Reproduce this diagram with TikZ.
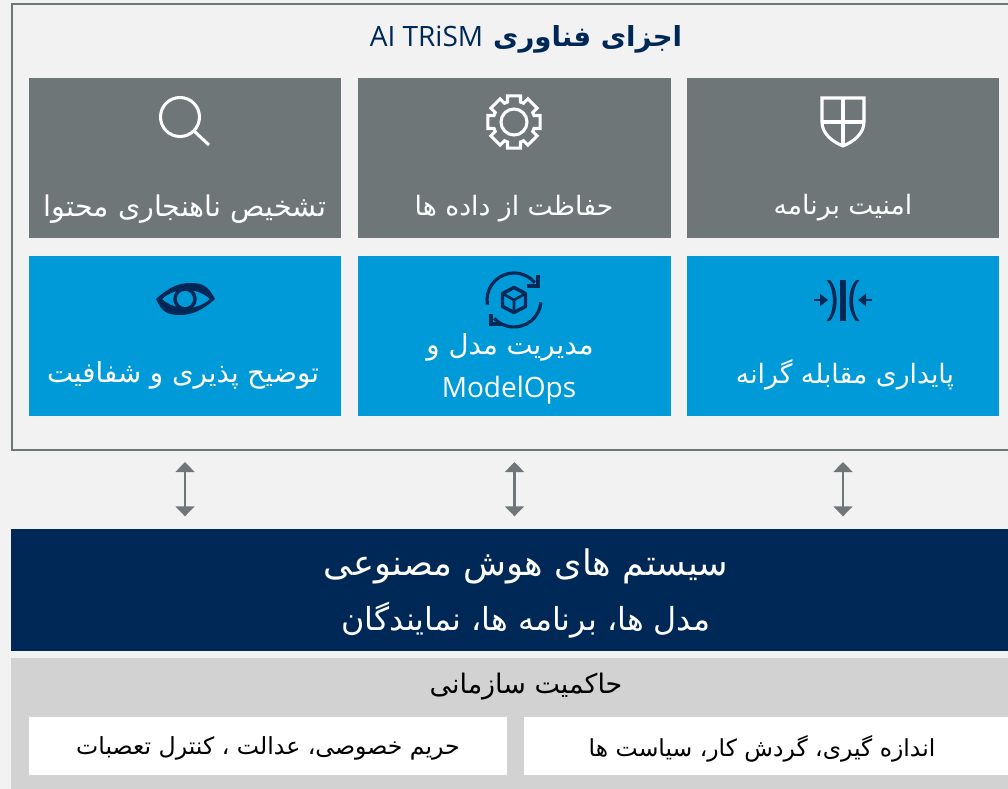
\documentclass[tikz,border=0pt]{standalone}
\usepackage{fontspec}
\setmainfont{Open Sans}
\newfontfamily\arabicfont[Script=Arabic]{DejaVu Sans}
\TeXXeTstate=1
\usetikzlibrary{arrows.meta}
\definecolor{pagebg}{HTML}{F2F2F2}
\definecolor{slate}{HTML}{6E7677}
\definecolor{cyanbox}{HTML}{009AD8}
\definecolor{navy}{HTML}{002856}
\definecolor{govgrey}{HTML}{D2D2D2}
\newcommand{\fa}[1]{{\arabicfont\beginR #1\endR}}
\tikzset{
  card/.style={anchor=north west,minimum width=#1*0.75pt,inner sep=0pt,outer sep=0pt},
  greybox/.style={card=312,minimum height=120pt,fill=slate},
  bluebox/.style={card=313,minimum height=120pt,fill=cyanbox},
  lab/.style={text=white,font=\fontsize{#1pt}{#1pt}\selectfont,align=center,inner sep=0pt},
  whitelab/.style={text=black,font=\fontsize{#1pt}{#1pt}\selectfont,inner sep=0pt},
  biarrow/.style={draw=slate,line width=1.9pt,{Triangle[length=7.5pt,width=14pt]}-{Triangle[length=7.5pt,width=14pt]},shorten <=9pt,shorten >=9.5pt},
  iconw/.style={draw=white,line width=2.3pt},
  iconn/.style={draw=navy,line width=2.4pt},
}
\begin{document}
\begin{tikzpicture}[x=0.75pt,y=-0.75pt]
\useasboundingbox (0,0) rectangle (1008,789);
\fill[pagebg] (0,0) rectangle (1008,789);
\node[anchor=north west,draw=slate,line width=1.5pt,minimum width=1000*0.75pt,minimum height=446*0.75pt,inner sep=0pt,outer sep=0pt] (outer) at (12,4) {};
\node[text=navy,inner sep=0pt,font=\fontsize{21pt}{24pt}\selectfont] (title) at (526,39) {AI TRiSM\hspace{7.5pt}{\bfseries\fontsize{20.7pt}{24pt}\selectfont\fa{اجزای فناوری}}};
% cards
\node[greybox] (g1) at (29,78) {};
\node[greybox,minimum width=313*0.75pt] (g2) at (358,78) {};
\node[greybox] (g3) at (687,78) {};
\node[bluebox,minimum width=312*0.75pt] (b1) at (29,256) {};
\node[bluebox] (b2) at (358,256) {};
\node[bluebox,minimum width=312*0.75pt] (b3) at (687,256) {};
\node[lab=21.4] (t1) at (185,209) {\fa{تشخیص ناهنجاری محتوا}};
\node[lab=20] (t2) at (514,209) {\fa{حفاظت از داده ها}};
\node[lab=20] (t3) at (843,208) {\fa{امنیت برنامه}};
\node[lab=20.7] (t4) at (183,375) {\fa{توضیح پذیری و شفافیت}};
\node[lab=20.7] (t5) at (510,347) {\fa{مدیریت مدل و}};
\node[lab=21] (t5b) at (509,390) {ModelOps};
\node[lab=20] (t6) at (845,375) {\fa{پایداری مقابله گرانه}};
% system
\node[anchor=north west,fill=navy,minimum width=997*0.75pt,minimum height=122*0.75pt,inner sep=0pt,outer sep=0pt] (navybar) at (11,529) {};
\node[lab=26.4] (s1) at (526,566) {\fa{سیستم های هوش مصنوعی}};
\node[lab=23.8] (s2) at (526,620) {\fa{مدل ها، برنامه ها، نمایندگان}};
% governance
\node[anchor=north west,fill=govgrey,minimum width=997*0.75pt,minimum height=131*0.75pt,inner sep=0pt,outer sep=0pt] (gov) at (11,658) {};
\node[whitelab=20.2] (g) at (526,687) {\fa{حاکمیت سازمانی}};
\node[anchor=north west,fill=white,minimum width=478*0.75pt,minimum height=58*0.75pt,inner sep=0pt,outer sep=0pt] (w1) at (29,717) {};
\node[anchor=north west,fill=white,minimum width=484*0.75pt,minimum height=58*0.75pt,inner sep=0pt,outer sep=0pt] (w2) at (524,717) {};
\node[whitelab=17.7] (wt1) at (268,748) {\fa{حریم خصوصی، عدالت ، کنترل تعصبات}};
\node[whitelab=17.6] (wt2) at (762,749) {\fa{اندازه گیری، گردش کار، سیاست ها}};
% arrows
\draw[biarrow] (b1.south |- outer.south) -- (b1.south |- navybar.north);
\draw[biarrow] (b2.south |- outer.south) -- (b2.south |- navybar.north);
\draw[biarrow] (b3.south |- outer.south) -- (b3.south |- navybar.north);
% search icon
\draw[iconw] (180,117) circle (19.5);
\draw[iconw] (194,131) -- (209,145);
% gear
\begin{scope}[shift={(514,122)}]
\draw[iconw,line join=miter] (-18:21) \foreach \a in {0,45,...,315} { -- (\a-18:21) -- (\a-14:27) -- (\a+14:27) -- (\a+18:21) } -- cycle;
\draw[iconw] (0,0) circle (13);
\end{scope}
% shield
\draw[iconw] (822,98) -- (864,98) -- (864,122) .. controls (864,134) and (853,142) .. (843,146) .. controls (833,142) and (822,134) .. (822,122) -- cycle;
\draw[iconw] (843,98) -- (843,146) (822,122) -- (864,122);
% eye
\fill[navy,even odd rule] (156,299) .. controls (168,288) and (178,283) .. (190,283) .. controls (203,283) and (208,286) .. (215,299) .. controls (203,310) and (192,315) .. (180,315) .. controls (167,315) and (162,312) .. (156,299) -- cycle
 (162,299) .. controls (175,287) and (197,287) .. (210,299) .. controls (197,311) and (175,311) .. (162,299) -- cycle;
\draw[navy,line width=2.6pt] (185,299) circle (10);
% model ops icon
\begin{scope}[shift={(514,300)},y=0.75pt]
\draw[iconn] (190:27) arc (190:40:27);
\draw[iconn] (-5:27) arc (-5:-137:27);
\draw[iconn] (13,14) -- (24,14) -- (24,25);
\draw[iconn] (-12,-24) -- (-23,-24) -- (-23,-14);
\draw[navy,line width=2.6pt,line join=round] (0,12.5) -- (11.5,6.5) -- (11.5,-6.5) -- (0,-12.5) -- (-11.5,-6.5) -- (-11.5,6.5) -- cycle;
\draw[navy,line width=2pt] (-11.5,6.5) -- (0,0) -- (11.5,6.5) (0,0) -- (0,-12.5);
\end{scope}
% adversarial icon
\fill[navy] (840.3,280) rectangle (845.7,321);
\fill[navy] (826.5,280) .. controls (835,288) and (835,313) .. (826.5,321) -- (830,321) .. controls (839,311) and (839,290) .. (830,280) -- cycle;
\fill[navy] (859.5,280) .. controls (851,288) and (851,313) .. (859.5,321) -- (856,321) .. controls (847,311) and (847,290) .. (856,280) -- cycle;
\draw[navy,line width=2.2pt,-{Triangle[length=6pt,width=9pt]}] (814,300) -- (828,300);
\draw[navy,line width=2.2pt,-{Triangle[length=6pt,width=9pt]}] (872,300) -- (858,300);
\end{tikzpicture}
\end{document}
